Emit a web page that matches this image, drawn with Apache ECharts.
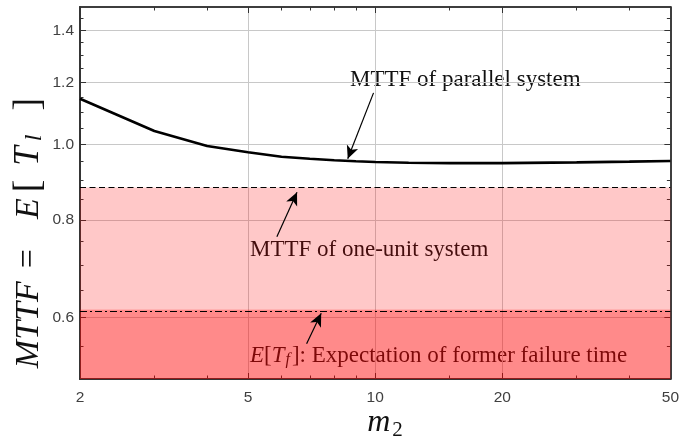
<!DOCTYPE html>
<html><head><meta charset="utf-8">
<script src="https://cdn.jsdelivr.net/npm/echarts@6/dist/echarts.min.js"></script>
<style>html,body{margin:0;padding:0;background:#fff}#c{width:682px;height:441px}</style>
</head><body><div id="c"></div>
<script>
// ---- data ----
const m2 = [2, 3, 4, 5, 6, 7, 8, 9, 10, 12, 15, 20, 30, 40, 50];
const mttfParallel = [1.144, 1.040, 0.995, 0.977, 0.964, 0.958, 0.954, 0.951, 0.949, 0.947, 0.946, 0.946, 0.948, 0.950, 0.952];
const mttfOneUnit = 0.88;
const expFormerFailure = 0.614;
const xRange = [2, 50];
const yRange = [0.5, 1.5];
const xLabelValues = [2, 5, 10, 20, 50];
const xGridValues = [5, 10, 20];
const xMajorTicks = [5, 10, 20];
const xMinorTicks = [3, 4, 6, 7, 8, 9, 15, 30, 40];
const yLabelValues = [0.6, 0.8, 1.0, 1.2, 1.4];
const yMinorTicks = [0.55, 0.65, 0.7, 0.75, 0.85, 0.9, 0.95, 1.05, 1.1, 1.15, 1.25, 1.3, 1.35, 1.45];
// annotation arrows: [tail, tip] in data coordinates
const arrowTails = [[9.91, 1.164], [5.85, 0.761], [6.88, 0.555]];
const arrowTips = [[8.61, 0.958], [6.53, 0.868], [7.45, 0.607]];

const chart = echarts.init(document.getElementById('c'), null, {renderer: 'canvas'});
const axisCol = '#333';
const labelFont = {fontFamily: 'Liberation Sans, Arial, sans-serif', fontSize: 15.5, color: '#404040'};
const lg = v => Math.log10(v);

// main log axes: labels + grid lines
function mainAx(pos, range, labels, grid, fmt, margin) {
  return {
    type: 'log', logBase: 10, min: range[0], max: range[1], position: pos,
    axisLine: {show: true, onZero: false, lineStyle: {color: axisCol, width: 1.5}},
    axisTick: {show: false, customValues: grid},
    axisLabel: Object.assign({show: true, customValues: labels, margin: margin, formatter: fmt}, labelFont),
    splitLine: {show: true, lineStyle: {color: '#c8c8c8', width: 1}},
    minorTick: {show: false}, minorSplitLine: {show: false}
  };
}
// tick-only axes (same log range, expressed as log10 on a value axis)
function tickAx(pos, range, ticks, len) {
  return {
    type: 'value', min: lg(range[0]), max: lg(range[1]), position: pos,
    axisLine: {show: true, onZero: false, lineStyle: {color: axisCol, width: 1.5}},
    axisTick: {show: true, inside: true, length: len, customValues: ticks.map(lg), lineStyle: {color: axisCol, width: 1}},
    axisLabel: {show: false},
    splitLine: {show: false}, minorTick: {show: false}, minorSplitLine: {show: false}
  };
}

const option = {
  animation: false,
  grid: {left: 80, right: 9, top: 7, bottom: 62, containLabel: false},
  xAxis: [
    mainAx('bottom', xRange, xLabelValues, xGridValues, v => String(Math.round(v)), 11),
    tickAx('bottom', xRange, xMajorTicks, 6), tickAx('bottom', xRange, xMinorTicks, 3.5),
    tickAx('top', xRange, xMajorTicks, 6), tickAx('top', xRange, xMinorTicks, 3.5)
  ],
  yAxis: [
    mainAx('left', yRange, yLabelValues, yLabelValues, v => v.toFixed(1), 6),
    tickAx('left', yRange, yLabelValues, 6), tickAx('left', yRange, yMinorTicks, 3.5),
    tickAx('right', yRange, yLabelValues, 6), tickAx('right', yRange, yMinorTicks, 3.5)
  ],
  series: [{
    type: 'line', xAxisIndex: 0, yAxisIndex: 0,
    data: m2.map((m, i) => [m, mttfParallel[i]]),
    showSymbol: false, symbol: 'none', z: 5,
    lineStyle: {color: '#000', width: 2.6},
    markArea: {
      silent: true,
      data: [
        [{yAxis: yRange[0], itemStyle: {color: 'rgba(255,0,0,0.46)'}}, {yAxis: expFormerFailure}],
        [{yAxis: expFormerFailure, itemStyle: {color: 'rgba(255,0,0,0.215)'}}, {yAxis: mttfOneUnit}]
      ]
    },
    markLine: {
      silent: true, animation: false,
      symbol: ['none', 'none'],
      label: {show: false},
      data: [
        {yAxis: mttfOneUnit, lineStyle: {color: '#000', width: 1.2, type: [6, 3.5]}},
        {yAxis: expFormerFailure, lineStyle: {color: '#000', width: 1.2, type: [7, 3, 2, 3]}}
      ]
    }
  }, {
    type: 'line', xAxisIndex: 0, yAxisIndex: 0, data: [], z: 6,
    markLine: {
      silent: true, animation: false,
      symbol: ['none', 'arrow'], symbolSize: [9, 13],
      label: {show: false},
      lineStyle: {color: '#000', width: 1.2, type: 'solid'},
      itemStyle: {color: '#000'},
      data: arrowTails.map((t, i) => [{coord: t}, {coord: arrowTips[i]}])
    }
  }],
  graphic: [
    {type: 'text', x: 350, y: 80, style: {text: 'MTTF of parallel system', font: '23px "Liberation Serif"', fill: '#111', verticalAlign: 'middle'}},
    {type: 'text', x: 250, y: 250, style: {text: 'MTTF of one-unit system', font: '23px "Liberation Serif"', fill: '#111', verticalAlign: 'middle'}},
    {type: 'text', x: 250, y: 356, style: {
      text: '{i|E}{n|[}{i|T}{s|f}{n|]: Expectation of former failure time}', verticalAlign: 'middle', fill: '#111',
      rich: {
        i: {fontFamily: 'Liberation Serif', fontStyle: 'italic', fontSize: 23, fill: '#111'},
        n: {fontFamily: 'Liberation Serif', fontSize: 23, fill: '#111'},
        s: {fontFamily: 'Liberation Serif', fontStyle: 'italic', fontSize: 16, fill: '#111', padding: [8, 2, 0, 1]}
      }}},
    {type: 'text', x: 29, y: 233, rotation: Math.PI / 2, style: {
      text: '{i|MTTF}{eq|=}{i|E}{br|[}{t|T}{s|l}{br2|]}', align: 'center', verticalAlign: 'middle', fill: '#111',
      rich: {
        i: {fontFamily: 'Liberation Serif', fontStyle: 'italic', fontSize: 34, fill: '#111'},
        eq: {fontFamily: 'Liberation Serif', fontSize: 34, fill: '#111', padding: [0, 30, 0, 13]},
        br: {fontFamily: 'Liberation Serif', fontSize: 38, fill: '#111', padding: [0, 14, 0, 6]},
        t: {fontFamily: 'Liberation Serif', fontStyle: 'italic', fontSize: 35, fill: '#111'},
        br2: {fontFamily: 'Liberation Serif', fontSize: 38, fill: '#111', padding: [0, 0, 0, 20]},
        s: {fontFamily: 'Liberation Serif', fontStyle: 'italic', fontSize: 24, fill: '#111', padding: [12, 4, 0, 5]}
      }}},
    {type: 'text', x: 385, y: 423, style: {
      text: '{i|m}{s|2}', align: 'center', verticalAlign: 'middle', fill: '#111',
      rich: {
        i: {fontFamily: 'Liberation Serif', fontStyle: 'italic', fontSize: 32, fill: '#111'},
        s: {fontFamily: 'Liberation Serif', fontSize: 21, fill: '#111', padding: [14, 0, 0, 2]}
      }}}
  ]
};
chart.setOption(option);
</script></body></html>
